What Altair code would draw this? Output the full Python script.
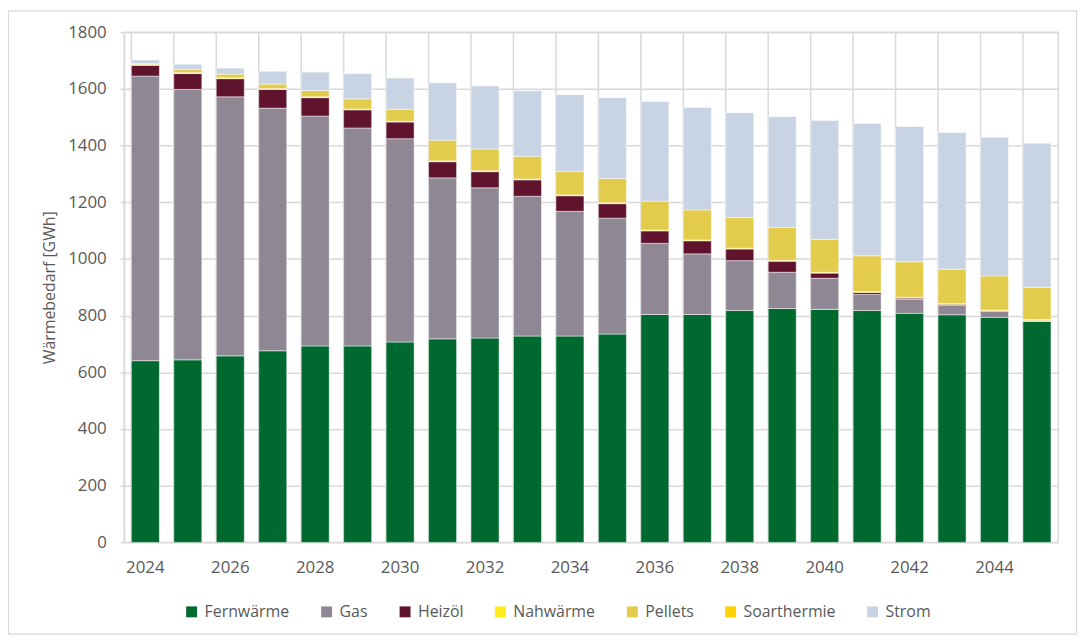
import altair as alt
import pandas as pd

years = [str(y) for y in range(2024, 2046)]
categories = ["Fernwärme", "Gas", "Heizöl", "Nahwärme", "Pellets", "Soarthermie", "Strom"]
colors = ["#00692F", "#8F8793", "#5F132D", "#FFEC1A", "#E3CB4B", "#FFD100", "#C8D3E3"]

fernwaerme = [641, 644, 658, 676, 693, 693, 707, 718, 721, 728, 728, 735, 804, 804, 818, 825, 822, 818, 808, 803, 794, 780]
gas = [1004, 954, 914, 856, 811, 769, 717, 568, 530, 493, 440, 409, 251, 214, 176, 128, 110, 57, 50, 33, 21, 1]
heizoel = [38, 56, 64, 66, 65, 64, 59, 57, 57, 58, 55, 51, 44, 46, 41, 39, 18, 7, 4, 4, 2, 2]
nahwaerme = [3, 3, 3, 3, 3, 3, 3, 3, 3, 3, 3, 3, 3, 3, 3, 3, 3, 3, 3, 3, 3, 3]
pellets = [4, 11, 13, 16, 22, 36, 42, 73, 77, 80, 82, 86, 102, 106, 108, 116, 116, 126, 125, 121, 120, 114]
solarthermie = [0] * 22
strom = [12, 19, 21, 45, 65, 89, 110, 203, 222, 231, 272, 285, 351, 361, 370, 391, 419, 467, 477, 482, 489, 508]

series = [fernwaerme, gas, heizoel, nahwaerme, pellets, solarthermie, strom]
rows = []
for ci, (cat, vals) in enumerate(zip(categories, series)):
    for y, v in zip(years, vals):
        rows.append({"Jahr": y, "Träger": cat, "Wert": v, "ord": ci})
df = pd.DataFrame(rows)

FONT = "Open Sans"
GRAY = "#595959"
GRID = "#D9D9D9"

xscale = alt.Scale(paddingInner=0.34, paddingOuter=0.17)
xaxis = alt.Axis(title=None, labelAngle=0, ticks=False, grid=False, domain=False,
                 bandPosition=0.5,
                 labelExpr="parseInt(datum.value) % 2 == 0 ? datum.label : ''",
                 labelFont=FONT, labelFontSize=17, labelColor=GRAY, labelPadding=17)

vgrid = alt.Chart(pd.DataFrame({"Jahr": years})).mark_rule(color=GRID, strokeWidth=1.5).encode(
    x=alt.X("Jahr:O", sort=years, bandPosition=0, scale=xscale, axis=xaxis),
)

bars = alt.Chart(df).transform_filter("datum.Wert > 0").mark_bar(
    stroke="#FFFFFF", strokeWidth=0.6, strokeOpacity=0.8
).encode(
    x=alt.X("Jahr:O", sort=years, scale=xscale, axis=xaxis),
    y=alt.Y("Wert:Q", stack="zero",
            scale=alt.Scale(domain=[0, 1800], nice=False),
            axis=alt.Axis(title="Wärmebedarf [GWh]", values=list(range(0, 1801, 200)), format="d",
                          grid=True, gridColor=GRID, gridWidth=1.5,
                          domainColor=GRID, domainWidth=1.5,
                          tickColor=GRID, tickSize=4, tickWidth=1.5,
                          labelFont=FONT, labelFontSize=17, labelColor=GRAY, labelPadding=14,
                          titleFont=FONT, titleFontSize=16, titleColor=GRAY,
                          titleFontWeight="normal", titlePadding=10)),
    color=alt.Color("Träger:N", scale=alt.Scale(domain=categories, range=colors),
                    legend=alt.Legend(title=None, orient="none", direction="horizontal",
                                      legendX=60, legendY=576, columns=7,
                                      symbolType="square", symbolSize=121, symbolStrokeWidth=0,
                                      labelFont=FONT, labelFontSize=16, labelColor=GRAY,
                                      labelOffset=5, columnPadding=29, padding=0)),
    order=alt.Order("ord:Q", sort="ascending"),
)

frame = alt.Chart(pd.DataFrame({"a": [0]})).mark_rect(
    fill=None, stroke=GRID, strokeWidth=1.2
).encode(
    x=alt.value(-116.5), x2=alt.value(959.5), y=alt.value(-21.5), y2=alt.value(606.5)
)

chart = alt.layer(vgrid, bars, frame).properties(
    width=941, height=514,
    autosize=alt.AutoSizeParams(type="none"),
    padding={"left": 117, "top": 22, "right": 26, "bottom": 97},
    background="white",
).configure_view(stroke=GRID, strokeWidth=1.5)

chart.save("out.html", embed_options={"renderer": "svg", "actions": False})
